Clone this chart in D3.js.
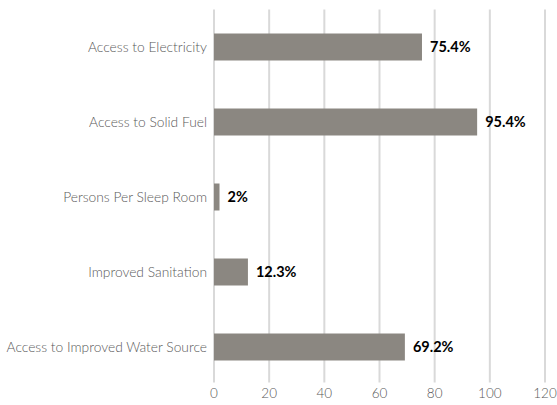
<!DOCTYPE html>
<html>
<head>
<meta charset="utf-8">
<script src="https://cdn.jsdelivr.net/npm/d3@7"></script>
<style>
  body { margin: 0; background: #fff; }
  svg { display: block; }
</style>
</head>
<body>
<div id="chart"></div>
<script>
const categories = [
  "Access to Electricity",
  "Access to Solid Fuel",
  "Persons Per Sleep Room",
  "Improved Sanitation",
  "Access to Improved Water Source"
];
const values = [75.4, 95.4, 2, 12.3, 69.2];
const valueLabels = ["75.4%", "95.4%", "2%", "12.3%", "69.2%"];
const xTicks = [0, 20, 40, 60, 80, 100, 120];

const width = 557, height = 405;
const margin = { top: 9.5, right: 12, bottom: 20.5, left: 214 };

const svg = d3.select('#chart').append('svg')
    .attr('width', width)
    .attr('height', height);

const x = d3.scaleLinear()
    .domain([0, 120])
    .range([margin.left, width - margin.right]);

const y = d3.scaleBand()
    .domain(categories)
    .range([margin.top, height - margin.bottom])
    .paddingInner(0.64)
    .paddingOuter(0.32);

// gridlines
svg.append('g')
    .selectAll('line')
    .data(xTicks)
    .join('line')
    .attr('x1', d => x(d))
    .attr('x2', d => x(d))
    .attr('y1', margin.top)
    .attr('y2', height - margin.bottom - 2)
    .attr('stroke', '#d9d9d9')
    .attr('stroke-width', 2);

// x tick labels
svg.append('g')
    .selectAll('text')
    .data(xTicks)
    .join('text')
    .attr('x', d => x(d))
    .attr('y', 398)
    .attr('text-anchor', 'middle')
    .style('font-family', 'Lato, sans-serif')
    .style('font-weight', 300)
    .style('font-size', '13.5px')
    .attr('fill', '#595959')
    .text(d => d);

// bars
svg.append('g')
    .selectAll('rect')
    .data(values)
    .join('rect')
    .attr('x', x(0))
    .attr('y', (d, i) => y(categories[i]))
    .attr('width', d => x(d) - x(0))
    .attr('height', y.bandwidth())
    .attr('fill', '#8b8781');

// value labels
svg.append('g')
    .selectAll('text')
    .data(values)
    .join('text')
    .attr('x', d => x(d) + 8)
    .attr('y', (d, i) => y(categories[i]) + y.bandwidth() / 2)
    .attr('dy', '0.35em')
    .style('font-family', 'Lato, sans-serif')
    .style('font-weight', 'bold')
    .style('font-size', '14.5px')
    .attr('fill', '#000')
    .text((d, i) => valueLabels[i]);

// category labels
svg.append('g')
    .selectAll('text')
    .data(categories)
    .join('text')
    .attr('x', margin.left - 7)
    .attr('y', d => y(d) + y.bandwidth() / 2)
    .attr('dy', '0.35em')
    .attr('text-anchor', 'end')
    .style('font-family', 'Lato, sans-serif')
    .style('font-weight', 300)
    .style('font-size', '13.8px')
    .attr('fill', '#595959')
    .text(d => d);
</script>
</body>
</html>
